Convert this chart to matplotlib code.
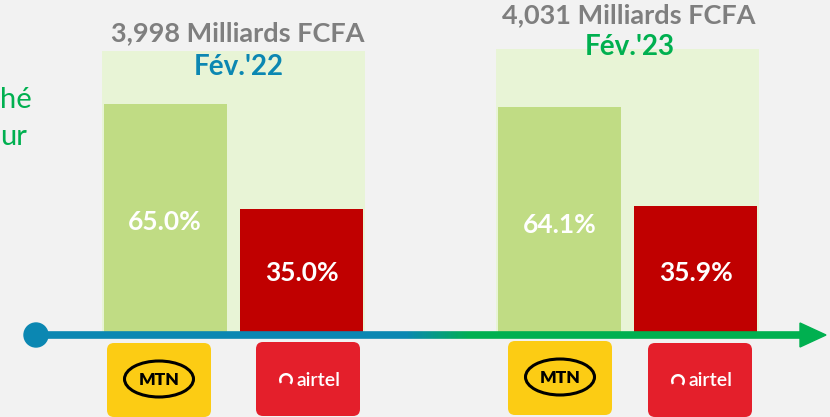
import matplotlib
matplotlib.use("Agg")
import matplotlib.pyplot as plt
import numpy as np
from matplotlib.patches import FancyBboxPatch, Ellipse, Circle, Polygon, Rectangle, Wedge
from matplotlib.collections import LineCollection
from matplotlib.colors import to_rgb

# ---- data ----
periods = ["Fév.'22", "Fév.'23"]
totals = ["3,998", "4,031"]          # Milliards FCFA
operators = ["MTN", "airtel"]
mtn_share = [65.0, 64.1]
airtel_share = [35.0, 35.9]

# ---- style ----
BG = "#f2f2f2"
MTN_C = "#c0dc84"
AIRTEL_C = "#c00000"
PANEL_C = "#e8f4d6"
BLUE = "#0b87b2"
GREEN = "#00b050"
GREY = "#7f7f7f"
period_colors = [BLUE, GREEN]
FONT = "Lato"

W, H = 830, 417
fig = plt.figure(figsize=(W / 100, H / 100), dpi=100, facecolor=BG)

BASE = 332.0        # pixel y of baseline
PXU = 3.51          # pixels per percentage point

# bar axes (percent units)
ax = fig.add_axes([0, 0, 1, 1])
ax.set_xlim(0, W)
ax.set_ylim(-(H - BASE) / PXU, BASE / PXU)
ax.axis("off")
ax.set_facecolor("none")

# overlay axes in pixel units
ov = fig.add_axes([0, 0, 1, 1])
ov.set_xlim(0, W)
ov.set_ylim(H, 0)
ov.axis("off")
ov.set_facecolor("none")

group_left = [102, 496]
panel_w = 263
bar_w = 123
mtn_x = [165, 559.5]
air_x = [301.5, 695.5]
panel_top = [80, 80.5]

for i in range(2):
    ax.add_patch(Rectangle((group_left[i], 0), panel_w, panel_top[i],
                           facecolor=PANEL_C, edgecolor="none", zorder=1))

ax.bar(mtn_x, mtn_share, width=bar_w, color=MTN_C, zorder=2)
ax.bar(air_x, airtel_share, width=bar_w, color=AIRTEL_C, zorder=2)

for i in range(2):
    ax.text(mtn_x[i], mtn_share[i] - 33.7, f"{mtn_share[i]:.1f}%", color="white",
            fontsize=19, fontweight="bold", family=FONT, ha="center", va="center", zorder=5)
    ax.text(air_x[i], 16.8, f"{airtel_share[i]:.1f}%", color="white",
            fontsize=19, fontweight="bold", family=FONT, ha="center", va="center", zorder=5)

# titles
title_y = [33, 15]
period_y = [67, 47]
title_x = [238, 629]
for i in range(2):
    ov.text(title_x[i], title_y[i], f"{totals[i]} Milliards FCFA", color=GREY,
            fontsize=19.5, fontweight="bold", family=FONT, ha="center", va="center", zorder=6)
    ov.text(title_x[i] + 1, period_y[i], periods[i], color=period_colors[i],
            fontsize=20, fontweight="bold", family=FONT, ha="center", va="center", zorder=6)

# left cut-off text
ov.text(32, 100, "hé", color=GREEN, fontsize=21, family=FONT, ha="right", va="center")
ov.text(27, 137, "ur", color=GREEN, fontsize=21, family=FONT, ha="right", va="center")

# timeline with gradient
xs = np.linspace(36, 802, 400)
b, g = np.array(to_rgb(BLUE)), np.array(to_rgb(GREEN))
t = np.clip((xs[:-1] - 405) / (470 - 405), 0, 1)
cols = [tuple(b * (1 - tt) + g * tt) for tt in t]
segs = [[(xs[k], 335), (xs[k + 1], 335)] for k in range(len(xs) - 1)]
ov.add_collection(LineCollection(segs, colors=cols, linewidths=5.5, zorder=7, capstyle="butt"))
ov.add_patch(Circle((36, 335), 12, color=BLUE, zorder=8))
ov.add_patch(Polygon([(800, 323), (826, 335), (800, 347)], closed=True, color=GREEN, zorder=8))

# logos
mtn_boxes = [(107, 343), (508, 341)]
air_boxes = [(256, 342), (648, 343)]
for (x0, y0) in mtn_boxes:
    ov.add_patch(FancyBboxPatch((x0, y0), 104, 74, boxstyle="round,pad=0,rounding_size=7",
                                facecolor="#fccc14", edgecolor="none", zorder=6))
    cx, cy = x0 + 52, y0 + 36
    ov.add_patch(Ellipse((cx, cy), 69, 36, fill=False, edgecolor="black", lw=2.2, zorder=7))
    ov.text(cx, cy + 1, operators[0], color="black", fontsize=12.5, fontweight="heavy",
            family=FONT, ha="center", va="center", zorder=8)
for (x0, y0) in air_boxes:
    ov.add_patch(FancyBboxPatch((x0, y0), 104, 74, boxstyle="round,pad=0,rounding_size=7",
                                facecolor="#e41f2b", edgecolor="none", zorder=6))
    cx, cy = x0 + 52, y0 + 38
    ov.text(cx + 10, cy, operators[1], color="white", fontsize=14, fontweight="semibold",
            family=FONT, ha="center", va="center", zorder=8)
    ov.add_patch(Wedge((cx - 22, cy), 7, 150, 400, width=2.5, facecolor="white",
                       edgecolor="none", zorder=8))

fig.savefig("out.png", dpi=100, facecolor=BG)
